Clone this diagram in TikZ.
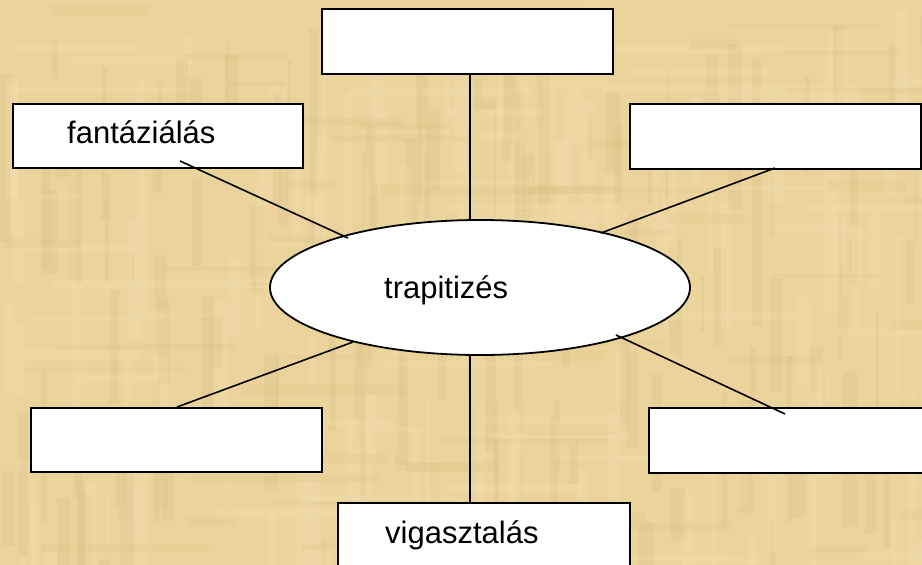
\documentclass[tikz,border=0pt]{standalone}
\usepackage{fontspec}
\setmainfont{Liberation Sans}
\usetikzlibrary{shapes.geometric}
\definecolor{papyrus}{RGB}{234,212,156}
\definecolor{papdark}{RGB}{218,192,130}
\definecolor{paplight}{RGB}{242,224,176}
\begin{document}
\begin{tikzpicture}[x=1pt,y=-1pt,
  box/.style={draw=black,line width=1.8pt,fill=white},
  conn/.style={draw=black,line width=1.6pt},
  lbl/.style={anchor=base west,inner sep=0pt,font=\fontsize{31}{36}\selectfont}]
\useasboundingbox (0,0) rectangle (922,565);
\begin{scope}
\clip (0,0) rectangle (922,565);
\fill[papyrus] (0,0) rectangle (922,565);
\pgfmathsetseed{7}
\foreach \i in {1,...,260}{
  \pgfmathsetmacro{\xa}{rnd*922}
  \pgfmathsetmacro{\ya}{rnd*565}
  \pgfmathsetmacro{\w}{3+rnd*12}
  \pgfmathsetmacro{\h}{30+rnd*140}
  \pgfmathsetmacro{\c}{rnd}
  \ifdim\c pt<0.5pt
    \fill[papdark,opacity=0.25] (\xa,\ya) rectangle ++(\w,\h);
  \else
    \fill[paplight,opacity=0.3] (\xa,\ya) rectangle ++(\w,\h);
  \fi
}
\foreach \i in {1,...,120}{
  \pgfmathsetmacro{\xa}{rnd*922}
  \pgfmathsetmacro{\ya}{rnd*565}
  \pgfmathsetmacro{\w}{40+rnd*160}
  \pgfmathsetmacro{\h}{3+rnd*8}
  \pgfmathsetmacro{\c}{rnd}
  \ifdim\c pt<0.5pt
    \fill[papdark,opacity=0.2] (\xa,\ya) rectangle ++(\w,\h);
  \else
    \fill[paplight,opacity=0.25] (\xa,\ya) rectangle ++(\w,\h);
  \fi
}
\end{scope}

% connector end points
\coordinate (tA) at (470,73);   \coordinate (tB) at (470,220);
\coordinate (flA) at (180,161); \coordinate (flB) at (348,238);
\coordinate (frA) at (775,168); \coordinate (frB) at (601,233);
\coordinate (blA) at (177,407); \coordinate (blB) at (353,342);
\coordinate (brA) at (785,414); \coordinate (brB) at (616,335);
\coordinate (bA) at (470,502);  \coordinate (bB) at (470,355);

% boxes
\begin{scope}[every node/.style={box,inner sep=0pt,anchor=north west}]
\node (top) [minimum width=291pt,minimum height=65pt] at (321,8) {};
\node (fl)  [minimum width=290pt,minimum height=64pt] at (12,103) {};
\node (fr)  [minimum width=291pt,minimum height=65pt] at (629,103) {};
\node (bl)  [minimum width=291pt,minimum height=64pt] at (30,407) {};
\node (br)  [minimum width=290pt,minimum height=65pt] at (648,407) {};
\node (bot) [minimum width=292pt,minimum height=80pt] at (337,502) {};
\end{scope}

\node (ell) [draw=black,line width=1.8pt,fill=white,ellipse,minimum width=420pt,minimum height=135pt,inner sep=0pt] at (480,287.5) {};

\draw[conn] (tA) -- (tB);
\draw[conn] (flA) -- (flB);
\draw[conn] (frA) -- (frB);
\draw[conn] (blA) -- (blB);
\draw[conn] (brA) -- (brB);
\draw[conn] (bA) -- (bB);

\node[lbl] (tfl) at (67,143) {fantáziálás};
\node[lbl] (tell) at (384,298) {trapitizés};
\node[lbl] (tbot) at (385,543) {vigasztalás};
\end{tikzpicture}
\end{document}
